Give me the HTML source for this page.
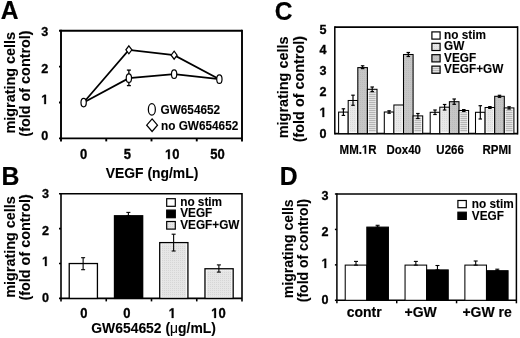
<!DOCTYPE html>
<html><head><meta charset="utf-8"><style>
html,body{margin:0;padding:0;background:#fff;}
svg{display:block;filter:grayscale(1);font-family:"Liberation Sans",sans-serif;font-weight:bold;}
text,.one{stroke:#000;}
.tk{stroke-width:0.3px;} .lg{stroke-width:0.1px;} .ti{stroke-width:0.1px;} .pl{stroke-width:0.2px;} .xl{stroke-width:0.15px;}
.one{vector-effect:non-scaling-stroke;}
</style></head><body>
<svg width="520" height="338" viewBox="0 0 520 338" font-family="Liberation Sans, sans-serif" font-weight="bold">
<defs>
<pattern id="dotB" width="2" height="2" patternUnits="userSpaceOnUse"><rect width="2" height="2" fill="#e6e6e6"/><rect width="1" height="1" fill="#d6d6d6"/></pattern>
<pattern id="dotL" width="2" height="2" patternUnits="userSpaceOnUse"><rect width="2" height="2" fill="#e8e8e8"/><rect width="1" height="1" fill="#dadada"/></pattern>
<pattern id="dotM" width="2" height="2" patternUnits="userSpaceOnUse"><rect width="2" height="2" fill="#c6c6c6"/><rect width="1" height="1" fill="#bcbcbc"/></pattern>
<pattern id="hstr" width="2" height="2" patternUnits="userSpaceOnUse"><rect width="2" height="2" fill="#e2e2e2"/><rect width="2" height="1" fill="#b6b6b6"/></pattern>
</defs>
<rect width="520" height="338" fill="#fff"/>
<text class="pl" transform="translate(0.7,19.3) scale(1,1.04)" font-size="24.6" text-anchor="start" >A</text>
<line x1="61" y1="30.8" x2="242" y2="30.8" stroke="#000" stroke-width="1.9"/>
<line x1="61" y1="138.4" x2="242" y2="138.4" stroke="#000" stroke-width="1.9"/>
<line x1="61" y1="29.85" x2="61" y2="141.4" stroke="#000" stroke-width="1.9"/>
<line x1="242" y1="29.85" x2="242" y2="141.4" stroke="#000" stroke-width="1.9"/>
<line x1="59" y1="138.4" x2="61" y2="138.4" stroke="#000" stroke-width="1.9"/>
<line x1="59" y1="102.53333333333333" x2="61" y2="102.53333333333333" stroke="#000" stroke-width="1.9"/>
<line x1="59" y1="66.66666666666667" x2="61" y2="66.66666666666667" stroke="#000" stroke-width="1.9"/>
<line x1="59" y1="30.80000000000001" x2="61" y2="30.80000000000001" stroke="#000" stroke-width="1.9"/>
<line x1="106.25" y1="138.4" x2="106.25" y2="141.4" stroke="#000" stroke-width="1.9"/>
<line x1="151.5" y1="138.4" x2="151.5" y2="141.4" stroke="#000" stroke-width="1.9"/>
<line x1="196.75" y1="138.4" x2="196.75" y2="141.4" stroke="#000" stroke-width="1.9"/>
<text class="tk" transform="translate(48.3,36) scale(1,1.07)" font-size="12.6" text-anchor="end" >3</text>
<text class="tk" transform="translate(48.3,72.9) scale(1,1.07)" font-size="12.6" text-anchor="end" >2</text>
<text id="t1_0" class="tk" transform="translate(48.3,104.1) scale(1,1.07)" font-size="12.6" text-anchor="end" > </text>
<path class="one tk" transform="translate(48.3,104.1) scale(1,1.07) translate(-7.001,0) scale(0.006152,-0.006152)" d="M478,0L478,1170L140,959L140,1180L493,1409L759,1409L759,0Z"/>
<text class="tk" transform="translate(48.3,139.7) scale(1,1.07)" font-size="12.6" text-anchor="end" >0</text>
<text class="ti" transform="translate(14.5,82.7) rotate(-90)" font-size="14.4" text-anchor="middle">migrating cells</text>
<text class="ti" transform="translate(30.1,83.5) rotate(-90)" font-size="14.4" text-anchor="middle">(fold of control)</text>
<text class="tk" transform="translate(83.7,159.1) scale(1,1.07)" font-size="13" text-anchor="middle" >0</text>
<text class="tk" transform="translate(127.4,159.1) scale(1,1.07)" font-size="13" text-anchor="middle" >5</text>
<text id="t1_1" class="tk" transform="translate(172.2,159.1) scale(1,1.07)" font-size="13" text-anchor="middle" > 0</text>
<path class="one tk" transform="translate(172.2,159.1) scale(1,1.07) translate(-7.227,0) scale(0.006348,-0.006348)" d="M478,0L478,1170L140,959L140,1180L493,1409L759,1409L759,0Z"/>
<text class="tk" transform="translate(217.5,159.1) scale(1,1.07)" font-size="13" text-anchor="middle" >50</text>
<text class="ti" transform="translate(152,177.8) scale(1,1.0)" font-size="13.9" text-anchor="middle" >VEGF (ng/mL)</text>
<polyline points="83.625,102.53333333333333 128.875,49.80933333333333 174.125,55.18933333333334 219.375,79.22" fill="none" stroke="#000" stroke-width="1.75"/>
<polyline points="83.625,102.53333333333333 128.875,78.144 174.125,74.19866666666667 219.375,79.22" fill="none" stroke="#000" stroke-width="1.75"/>
<line x1="128.875" y1="70.1" x2="128.875" y2="85.6" stroke="#000" stroke-width="1.3"/>
<line x1="126.875" y1="70.1" x2="130.875" y2="70.1" stroke="#000" stroke-width="1.3"/>
<line x1="126.875" y1="85.6" x2="130.875" y2="85.6" stroke="#000" stroke-width="1.3"/>
<ellipse cx="83.625" cy="102.53333333333333" rx="2.65" ry="4.25" fill="#fff" stroke="#000" stroke-width="1.2"/>
<ellipse cx="128.875" cy="78.144" rx="2.65" ry="4.25" fill="#fff" stroke="#000" stroke-width="1.2"/>
<ellipse cx="174.125" cy="74.19866666666667" rx="2.65" ry="4.25" fill="#fff" stroke="#000" stroke-width="1.2"/>
<ellipse cx="219.375" cy="79.22" rx="2.65" ry="4.25" fill="#fff" stroke="#000" stroke-width="1.2"/>
<polygon points="128.875,45.80933333333333 131.875,49.80933333333333 128.875,53.80933333333333 125.875,49.80933333333333" fill="#fff" stroke="#000" stroke-width="1.2"/>
<polygon points="174.125,51.18933333333334 177.125,55.18933333333334 174.125,59.18933333333334 171.125,55.18933333333334" fill="#fff" stroke="#000" stroke-width="1.2"/>
<ellipse cx="151.85" cy="109.4" rx="3.5" ry="5.7" fill="#fff" stroke="#000" stroke-width="1.25"/>
<text class="lg" transform="translate(160.5,113.7) scale(1,1.07)" font-size="11.8" text-anchor="start" >GW654652</text>
<polygon points="152.1,118.9 157.5,125.2 152.1,131.5 146.7,125.2" fill="#fff" stroke="#000" stroke-width="1.25"/>
<text class="lg" transform="translate(161,130.3) scale(1,1.07)" font-size="11.8" text-anchor="start" >no GW654652</text>
<text class="pl" transform="translate(1.4,184.5) scale(1,1.05)" font-size="24.8" text-anchor="start" >B</text>
<line x1="61" y1="193.8" x2="242" y2="193.8" stroke="#000" stroke-width="1.6"/>
<line x1="61" y1="298.4" x2="242" y2="298.4" stroke="#000" stroke-width="1.6"/>
<line x1="61" y1="193.0" x2="61" y2="301.4" stroke="#000" stroke-width="1.6"/>
<line x1="242" y1="193.0" x2="242" y2="301.4" stroke="#000" stroke-width="1.6"/>
<line x1="59" y1="298.4" x2="61" y2="298.4" stroke="#000" stroke-width="1.6"/>
<line x1="59" y1="263.5333333333333" x2="61" y2="263.5333333333333" stroke="#000" stroke-width="1.6"/>
<line x1="59" y1="228.66666666666669" x2="61" y2="228.66666666666669" stroke="#000" stroke-width="1.6"/>
<line x1="59" y1="193.8" x2="61" y2="193.8" stroke="#000" stroke-width="1.6"/>
<line x1="106.25" y1="298.4" x2="106.25" y2="301.4" stroke="#000" stroke-width="1.6"/>
<line x1="151.5" y1="298.4" x2="151.5" y2="301.4" stroke="#000" stroke-width="1.6"/>
<line x1="196.75" y1="298.4" x2="196.75" y2="301.4" stroke="#000" stroke-width="1.6"/>
<text class="tk" transform="translate(49,198.3) scale(1,1.07)" font-size="12.6" text-anchor="end" >3</text>
<text class="tk" transform="translate(49,234.5) scale(1,1.07)" font-size="12.6" text-anchor="end" >2</text>
<text id="t1_2" class="tk" transform="translate(49,265.9) scale(1,1.07)" font-size="12.6" text-anchor="end" > </text>
<path class="one tk" transform="translate(49,265.9) scale(1,1.07) translate(-7.001,0) scale(0.006152,-0.006152)" d="M478,0L478,1170L140,959L140,1180L493,1409L759,1409L759,0Z"/>
<text class="tk" transform="translate(49,301.8) scale(1,1.07)" font-size="12.6" text-anchor="end" >0</text>
<text class="ti" transform="translate(15,247) rotate(-90)" font-size="14.4" text-anchor="middle">migrating cells</text>
<text class="ti" transform="translate(30.3,247.4) rotate(-90)" font-size="14.4" text-anchor="middle">(fold of control)</text>
<text class="tk" transform="translate(83.8,317.9) scale(1,1.07)" font-size="13" text-anchor="middle" >0</text>
<text class="tk" transform="translate(126.9,317.9) scale(1,1.07)" font-size="13" text-anchor="middle" >0</text>
<text id="t1_3" class="tk" transform="translate(172.3,317.9) scale(1,1.07)" font-size="13" text-anchor="middle" > </text>
<path class="one tk" transform="translate(172.3,317.9) scale(1,1.07) translate(-3.614,0) scale(0.006348,-0.006348)" d="M478,0L478,1170L140,959L140,1180L493,1409L759,1409L759,0Z"/>
<text id="t1_4" class="tk" transform="translate(218.4,317.9) scale(1,1.07)" font-size="13" text-anchor="middle" > 0</text>
<path class="one tk" transform="translate(218.4,317.9) scale(1,1.07) translate(-7.227,0) scale(0.006348,-0.006348)" d="M478,0L478,1170L140,959L140,1180L493,1409L759,1409L759,0Z"/>
<text class="ti" transform="translate(153.6,333) scale(1,1.0)" font-size="13.9" text-anchor="middle" >GW654652 (<tspan font-weight="normal">&#956;</tspan>g/mL)</text>
<rect x="69.22500000000001" y="263.5333333333333" width="28.2" height="34.866666666666674" fill="#fff" stroke="#000" stroke-width="1.3"/>
<line x1="83.125" y1="257.7" x2="83.125" y2="269.7" stroke="#000" stroke-width="1.1"/>
<line x1="81.125" y1="257.7" x2="85.125" y2="257.7" stroke="#000" stroke-width="1.1"/>
<line x1="81.125" y1="269.7" x2="85.125" y2="269.7" stroke="#000" stroke-width="1.1"/>
<rect x="114.475" y="215.76600000000002" width="28.2" height="82.63399999999996" fill="#000" stroke="#000" stroke-width="1.3"/>
<line x1="128.375" y1="212.4" x2="128.375" y2="215.76600000000002" stroke="#000" stroke-width="1.1"/>
<line x1="126.375" y1="212.4" x2="130.375" y2="212.4" stroke="#000" stroke-width="1.1"/>
<line x1="126.375" y1="215.76600000000002" x2="130.375" y2="215.76600000000002" stroke="#000" stroke-width="1.1"/>
<rect x="159.725" y="242.61333333333334" width="28.2" height="55.78666666666663" fill="#fff" stroke="#000" stroke-width="1.3"/>
<rect x="161.375" y="244.26333333333335" width="24.9" height="52.486666666666636" fill="url(#dotB)"/>
<line x1="173.625" y1="234.2" x2="173.625" y2="251" stroke="#000" stroke-width="1.1"/>
<line x1="171.625" y1="234.2" x2="175.625" y2="234.2" stroke="#000" stroke-width="1.1"/>
<line x1="171.625" y1="251" x2="175.625" y2="251" stroke="#000" stroke-width="1.1"/>
<rect x="204.975" y="268.7633333333333" width="28.2" height="29.636666666666656" fill="#fff" stroke="#000" stroke-width="1.3"/>
<rect x="206.625" y="270.4133333333333" width="24.9" height="26.336666666666655" fill="url(#dotB)"/>
<line x1="218.875" y1="264.9" x2="218.875" y2="272.1" stroke="#000" stroke-width="1.1"/>
<line x1="216.875" y1="264.9" x2="220.875" y2="264.9" stroke="#000" stroke-width="1.1"/>
<line x1="216.875" y1="272.1" x2="220.875" y2="272.1" stroke="#000" stroke-width="1.1"/>
<rect x="166.7" y="198.7" width="8.6" height="7.6" fill="#fff" stroke="#000" stroke-width="1.2"/>
<text class="lg" transform="translate(180.2,205.89999999999998) scale(1,1.07)" font-size="11.8" text-anchor="start" >no stim</text>
<rect x="166.7" y="210.1" width="8.6" height="7.6" fill="#000" stroke="#000" stroke-width="1.2"/>
<text class="lg" transform="translate(180.2,217.29999999999998) scale(1,1.07)" font-size="11.8" text-anchor="start" >VEGF</text>
<rect x="166.7" y="221.5" width="8.6" height="7.6" fill="url(#dotB)" stroke="#000" stroke-width="1.2"/>
<text class="lg" transform="translate(180.2,228.7) scale(1,1.07)" font-size="11.8" text-anchor="start" >VEGF+GW</text>
<text class="pl" transform="translate(274.8,19.6) scale(1,1.08)" font-size="24.6" text-anchor="start" >C</text>
<line x1="334.8" y1="27.1" x2="517.6" y2="27.1" stroke="#000" stroke-width="1.8"/>
<line x1="334.8" y1="133.6" x2="517.6" y2="133.6" stroke="#000" stroke-width="1.8"/>
<line x1="334.8" y1="26.200000000000003" x2="334.8" y2="134.5" stroke="#000" stroke-width="1.5"/>
<line x1="517.6" y1="26.200000000000003" x2="517.6" y2="134.5" stroke="#000" stroke-width="1.5"/>
<text class="tk" transform="translate(326.5,138.3) scale(1,1.07)" font-size="12.6" text-anchor="end" >0</text>
<text id="t1_5" class="tk" transform="translate(326.5,117) scale(1,1.07)" font-size="12.6" text-anchor="end" > </text>
<path class="one tk" transform="translate(326.5,117) scale(1,1.07) translate(-7.001,0) scale(0.006152,-0.006152)" d="M478,0L478,1170L140,959L140,1180L493,1409L759,1409L759,0Z"/>
<text class="tk" transform="translate(326.5,95.9) scale(1,1.07)" font-size="12.6" text-anchor="end" >2</text>
<text class="tk" transform="translate(326.5,74.8) scale(1,1.07)" font-size="12.6" text-anchor="end" >3</text>
<text class="tk" transform="translate(326.5,54.4) scale(1,1.07)" font-size="12.6" text-anchor="end" >4</text>
<text class="tk" transform="translate(326.5,34) scale(1,1.07)" font-size="12.6" text-anchor="end" >5</text>
<text class="ti" transform="translate(288.3,87.4) rotate(-90)" font-size="14.4" text-anchor="middle">migrating cells</text>
<text class="ti" transform="translate(303.8,89.1) rotate(-90)" font-size="14.4" text-anchor="middle">(fold of control)</text>
<text id="t1_6" class="xl" transform="translate(358.1,153.8) scale(1,1.07)" font-size="11.5" text-anchor="middle" >MM. R</text>
<path class="one xl" transform="translate(358.1,153.8) scale(1,1.07) translate(3.810,0) scale(0.005615,-0.005615)" d="M478,0L478,1170L140,959L140,1180L493,1409L759,1409L759,0Z"/>
<text class="xl" transform="translate(403.7,153.8) scale(1,1.07)" font-size="11.5" text-anchor="middle" >Dox40</text>
<text class="xl" transform="translate(450.1,153.8) scale(1,1.07)" font-size="11.5" text-anchor="middle" >U266</text>
<text class="xl" transform="translate(496.8,153.8) scale(1,1.07)" font-size="11.5" text-anchor="middle" >RPMI</text>
<rect x="338.6" y="112.1" width="9.6" height="21.5" fill="#fff" stroke="#000" stroke-width="1.05"/>
<rect x="348.20000000000005" y="100.5" width="9.6" height="33.099999999999994" fill="#fff" stroke="#000" stroke-width="1.05"/>
<rect x="349.52500000000003" y="101.825" width="6.949999999999999" height="30.449999999999996" fill="url(#dotL)"/>
<rect x="357.8" y="67.6" width="9.6" height="66.0" fill="url(#dotM)" stroke="#000" stroke-width="1.05"/>
<rect x="367.40000000000003" y="89.3" width="9.6" height="44.3" fill="#fff" stroke="#000" stroke-width="1.05"/>
<rect x="368.725" y="90.625" width="6.949999999999999" height="41.65" fill="url(#hstr)"/>
<line x1="343.40000000000003" y1="108.8" x2="343.40000000000003" y2="115.4" stroke="#000" stroke-width="1.2"/>
<line x1="341.65000000000003" y1="108.8" x2="345.15000000000003" y2="108.8" stroke="#000" stroke-width="1.2"/>
<line x1="341.65000000000003" y1="115.4" x2="345.15000000000003" y2="115.4" stroke="#000" stroke-width="1.2"/>
<line x1="353.00000000000006" y1="95.2" x2="353.00000000000006" y2="105.3" stroke="#000" stroke-width="1.2"/>
<line x1="351.25000000000006" y1="95.2" x2="354.75000000000006" y2="95.2" stroke="#000" stroke-width="1.2"/>
<line x1="351.25000000000006" y1="105.3" x2="354.75000000000006" y2="105.3" stroke="#000" stroke-width="1.2"/>
<line x1="362.6" y1="65.8" x2="362.6" y2="68.6" stroke="#000" stroke-width="1.2"/>
<line x1="360.85" y1="65.8" x2="364.35" y2="65.8" stroke="#000" stroke-width="1.2"/>
<line x1="360.85" y1="68.6" x2="364.35" y2="68.6" stroke="#000" stroke-width="1.2"/>
<line x1="372.20000000000005" y1="87" x2="372.20000000000005" y2="91.6" stroke="#000" stroke-width="1.2"/>
<line x1="370.45000000000005" y1="87" x2="373.95000000000005" y2="87" stroke="#000" stroke-width="1.2"/>
<line x1="370.45000000000005" y1="91.6" x2="373.95000000000005" y2="91.6" stroke="#000" stroke-width="1.2"/>
<rect x="384.3" y="112" width="9.6" height="21.599999999999994" fill="#fff" stroke="#000" stroke-width="1.05"/>
<rect x="393.90000000000003" y="105" width="9.6" height="28.599999999999994" fill="#fff" stroke="#000" stroke-width="1.05"/>
<rect x="395.225" y="106.325" width="6.949999999999999" height="25.949999999999996" fill="url(#dotL)"/>
<rect x="403.5" y="54.5" width="9.6" height="79.1" fill="url(#dotM)" stroke="#000" stroke-width="1.05"/>
<rect x="413.1" y="115.9" width="9.6" height="17.69999999999999" fill="#fff" stroke="#000" stroke-width="1.05"/>
<rect x="414.425" y="117.22500000000001" width="6.949999999999999" height="15.049999999999988" fill="url(#hstr)"/>
<line x1="389.1" y1="110.8" x2="389.1" y2="113.2" stroke="#000" stroke-width="1.2"/>
<line x1="387.35" y1="110.8" x2="390.85" y2="110.8" stroke="#000" stroke-width="1.2"/>
<line x1="387.35" y1="113.2" x2="390.85" y2="113.2" stroke="#000" stroke-width="1.2"/>
<line x1="408.3" y1="52.5" x2="408.3" y2="56.5" stroke="#000" stroke-width="1.2"/>
<line x1="406.55" y1="52.5" x2="410.05" y2="52.5" stroke="#000" stroke-width="1.2"/>
<line x1="406.55" y1="56.5" x2="410.05" y2="56.5" stroke="#000" stroke-width="1.2"/>
<line x1="417.90000000000003" y1="113.5" x2="417.90000000000003" y2="118.5" stroke="#000" stroke-width="1.2"/>
<line x1="416.15000000000003" y1="113.5" x2="419.65000000000003" y2="113.5" stroke="#000" stroke-width="1.2"/>
<line x1="416.15000000000003" y1="118.5" x2="419.65000000000003" y2="118.5" stroke="#000" stroke-width="1.2"/>
<rect x="430.2" y="112.3" width="9.6" height="21.299999999999997" fill="#fff" stroke="#000" stroke-width="1.05"/>
<rect x="439.8" y="107.2" width="9.6" height="26.39999999999999" fill="#fff" stroke="#000" stroke-width="1.05"/>
<rect x="441.125" y="108.525" width="6.949999999999999" height="23.749999999999993" fill="url(#dotL)"/>
<rect x="449.4" y="101.7" width="9.6" height="31.89999999999999" fill="url(#dotM)" stroke="#000" stroke-width="1.05"/>
<rect x="459.0" y="110.5" width="9.6" height="23.099999999999994" fill="#fff" stroke="#000" stroke-width="1.05"/>
<rect x="460.325" y="111.825" width="6.949999999999999" height="20.449999999999996" fill="url(#hstr)"/>
<line x1="435.0" y1="110" x2="435.0" y2="114.5" stroke="#000" stroke-width="1.2"/>
<line x1="433.25" y1="110" x2="436.75" y2="110" stroke="#000" stroke-width="1.2"/>
<line x1="433.25" y1="114.5" x2="436.75" y2="114.5" stroke="#000" stroke-width="1.2"/>
<line x1="444.6" y1="104.5" x2="444.6" y2="110" stroke="#000" stroke-width="1.2"/>
<line x1="442.85" y1="104.5" x2="446.35" y2="104.5" stroke="#000" stroke-width="1.2"/>
<line x1="442.85" y1="110" x2="446.35" y2="110" stroke="#000" stroke-width="1.2"/>
<line x1="454.2" y1="99" x2="454.2" y2="104.3" stroke="#000" stroke-width="1.2"/>
<line x1="452.45" y1="99" x2="455.95" y2="99" stroke="#000" stroke-width="1.2"/>
<line x1="452.45" y1="104.3" x2="455.95" y2="104.3" stroke="#000" stroke-width="1.2"/>
<line x1="463.8" y1="109.6" x2="463.8" y2="111.4" stroke="#000" stroke-width="1.2"/>
<line x1="462.05" y1="109.6" x2="465.55" y2="109.6" stroke="#000" stroke-width="1.2"/>
<line x1="462.05" y1="111.4" x2="465.55" y2="111.4" stroke="#000" stroke-width="1.2"/>
<rect x="475.5" y="112.3" width="9.6" height="21.299999999999997" fill="#fff" stroke="#000" stroke-width="1.05"/>
<rect x="485.1" y="107.5" width="9.6" height="26.099999999999994" fill="#fff" stroke="#000" stroke-width="1.05"/>
<rect x="486.425" y="108.825" width="6.949999999999999" height="23.449999999999996" fill="url(#dotL)"/>
<rect x="494.7" y="96.3" width="9.6" height="37.3" fill="url(#dotM)" stroke="#000" stroke-width="1.05"/>
<rect x="504.3" y="107.9" width="9.6" height="25.69999999999999" fill="#fff" stroke="#000" stroke-width="1.05"/>
<rect x="505.625" y="109.22500000000001" width="6.949999999999999" height="23.04999999999999" fill="url(#hstr)"/>
<line x1="480.3" y1="105.7" x2="480.3" y2="119" stroke="#000" stroke-width="1.2"/>
<line x1="478.55" y1="105.7" x2="482.05" y2="105.7" stroke="#000" stroke-width="1.2"/>
<line x1="478.55" y1="119" x2="482.05" y2="119" stroke="#000" stroke-width="1.2"/>
<line x1="489.90000000000003" y1="106.6" x2="489.90000000000003" y2="108.4" stroke="#000" stroke-width="1.2"/>
<line x1="488.15000000000003" y1="106.6" x2="491.65000000000003" y2="106.6" stroke="#000" stroke-width="1.2"/>
<line x1="488.15000000000003" y1="108.4" x2="491.65000000000003" y2="108.4" stroke="#000" stroke-width="1.2"/>
<line x1="499.5" y1="95.3" x2="499.5" y2="97.3" stroke="#000" stroke-width="1.2"/>
<line x1="497.75" y1="95.3" x2="501.25" y2="95.3" stroke="#000" stroke-width="1.2"/>
<line x1="497.75" y1="97.3" x2="501.25" y2="97.3" stroke="#000" stroke-width="1.2"/>
<line x1="509.1" y1="106.8" x2="509.1" y2="109" stroke="#000" stroke-width="1.2"/>
<line x1="507.35" y1="106.8" x2="510.85" y2="106.8" stroke="#000" stroke-width="1.2"/>
<line x1="507.35" y1="109" x2="510.85" y2="109" stroke="#000" stroke-width="1.2"/>
<rect x="431.9" y="31.9" width="8.2" height="7.2" fill="#fff" stroke="#000" stroke-width="1.2"/>
<text class="lg" transform="translate(444.1,38.8) scale(1,1.07)" font-size="11.8" text-anchor="start" >no stim</text>
<rect x="431.9" y="43.3" width="8.2" height="7.2" fill="url(#dotL)" stroke="#000" stroke-width="1.2"/>
<text class="lg" transform="translate(444.1,50.199999999999996) scale(1,1.07)" font-size="11.8" text-anchor="start" >GW</text>
<rect x="431.9" y="54.7" width="8.2" height="7.2" fill="url(#dotM)" stroke="#000" stroke-width="1.2"/>
<text class="lg" transform="translate(444.1,61.6) scale(1,1.07)" font-size="11.8" text-anchor="start" >VEGF</text>
<rect x="431.9" y="66.1" width="8.2" height="7.2" fill="url(#hstr)" stroke="#000" stroke-width="1.2"/>
<text class="lg" transform="translate(444.1,73.0) scale(1,1.07)" font-size="11.8" text-anchor="start" >VEGF+GW</text>
<text class="pl" transform="translate(279.8,184.8) scale(1,1.06)" font-size="24.8" text-anchor="start" >D</text>
<line x1="336.9" y1="194" x2="516.4" y2="194" stroke="#000" stroke-width="1.5"/>
<line x1="336.9" y1="300.3" x2="516.4" y2="300.3" stroke="#000" stroke-width="1.5"/>
<line x1="336.9" y1="193.25" x2="336.9" y2="303.3" stroke="#000" stroke-width="1.5"/>
<line x1="516.4" y1="193.25" x2="516.4" y2="303.3" stroke="#000" stroke-width="1.5"/>
<line x1="334.9" y1="300.3" x2="336.9" y2="300.3" stroke="#000" stroke-width="1.5"/>
<line x1="334.9" y1="264.8666666666667" x2="336.9" y2="264.8666666666667" stroke="#000" stroke-width="1.5"/>
<line x1="334.9" y1="229.43333333333334" x2="336.9" y2="229.43333333333334" stroke="#000" stroke-width="1.5"/>
<line x1="334.9" y1="194.0" x2="336.9" y2="194.0" stroke="#000" stroke-width="1.5"/>
<line x1="396.7333333333333" y1="300.3" x2="396.7333333333333" y2="303.3" stroke="#000" stroke-width="1.5"/>
<line x1="456.56666666666666" y1="300.3" x2="456.56666666666666" y2="303.3" stroke="#000" stroke-width="1.5"/>
<text class="tk" transform="translate(328.5,200.3) scale(1,1.07)" font-size="12.6" text-anchor="end" >3</text>
<text class="tk" transform="translate(328.5,236.3) scale(1,1.07)" font-size="12.6" text-anchor="end" >2</text>
<text id="t1_7" class="tk" transform="translate(328.5,267.9) scale(1,1.07)" font-size="12.6" text-anchor="end" > </text>
<path class="one tk" transform="translate(328.5,267.9) scale(1,1.07) translate(-7.001,0) scale(0.006152,-0.006152)" d="M478,0L478,1170L140,959L140,1180L493,1409L759,1409L759,0Z"/>
<text class="tk" transform="translate(328.5,304.3) scale(1,1.07)" font-size="12.6" text-anchor="end" >0</text>
<text class="ti" transform="translate(292.8,248.8) rotate(-90)" font-size="14" text-anchor="middle">migrating cells</text>
<text class="ti" transform="translate(308.2,250.5) rotate(-90)" font-size="14" text-anchor="middle">(fold of control)</text>
<text class="xl" transform="translate(364.2,316.8) scale(1,1.0)" font-size="14" text-anchor="middle" >contr</text>
<text class="xl" transform="translate(420.6,316.8) scale(1,1.0)" font-size="14" text-anchor="middle" >+GW</text>
<text class="xl" transform="translate(487.1,316.8) scale(1,1.0)" font-size="14" text-anchor="middle" >+GW re</text>
<rect x="345.21666666666664" y="265.1" width="21.6" height="35.19999999999999" fill="#fff" stroke="#000" stroke-width="1.05"/>
<line x1="356.01666666666665" y1="261.4" x2="356.01666666666665" y2="265.1" stroke="#000" stroke-width="1.1"/>
<line x1="354.01666666666665" y1="261.4" x2="358.01666666666665" y2="261.4" stroke="#000" stroke-width="1.1"/>
<line x1="354.01666666666665" y1="265.1" x2="358.01666666666665" y2="265.1" stroke="#000" stroke-width="1.1"/>
<rect x="366.81666666666666" y="227.1" width="21.6" height="73.20000000000002" fill="#000" stroke="#000" stroke-width="1.05"/>
<line x1="377.6166666666667" y1="225.3" x2="377.6166666666667" y2="227.1" stroke="#000" stroke-width="1.1"/>
<line x1="375.6166666666667" y1="225.3" x2="379.6166666666667" y2="225.3" stroke="#000" stroke-width="1.1"/>
<line x1="375.6166666666667" y1="227.1" x2="379.6166666666667" y2="227.1" stroke="#000" stroke-width="1.1"/>
<rect x="405.04999999999995" y="265.1" width="21.6" height="35.19999999999999" fill="#fff" stroke="#000" stroke-width="1.05"/>
<line x1="415.84999999999997" y1="261.4" x2="415.84999999999997" y2="265.1" stroke="#000" stroke-width="1.1"/>
<line x1="413.84999999999997" y1="261.4" x2="417.84999999999997" y2="261.4" stroke="#000" stroke-width="1.1"/>
<line x1="413.84999999999997" y1="265.1" x2="417.84999999999997" y2="265.1" stroke="#000" stroke-width="1.1"/>
<rect x="426.65" y="269.9" width="21.6" height="30.400000000000034" fill="#000" stroke="#000" stroke-width="1.05"/>
<line x1="437.45" y1="265.5" x2="437.45" y2="269.9" stroke="#000" stroke-width="1.1"/>
<line x1="435.45" y1="265.5" x2="439.45" y2="265.5" stroke="#000" stroke-width="1.1"/>
<line x1="435.45" y1="269.9" x2="439.45" y2="269.9" stroke="#000" stroke-width="1.1"/>
<rect x="464.8833333333333" y="265.1" width="21.6" height="35.19999999999999" fill="#fff" stroke="#000" stroke-width="1.05"/>
<line x1="475.68333333333334" y1="261" x2="475.68333333333334" y2="265.1" stroke="#000" stroke-width="1.1"/>
<line x1="473.68333333333334" y1="261" x2="477.68333333333334" y2="261" stroke="#000" stroke-width="1.1"/>
<line x1="473.68333333333334" y1="265.1" x2="477.68333333333334" y2="265.1" stroke="#000" stroke-width="1.1"/>
<rect x="486.48333333333335" y="270.7" width="21.6" height="29.600000000000023" fill="#000" stroke="#000" stroke-width="1.05"/>
<line x1="497.28333333333336" y1="269.2" x2="497.28333333333336" y2="270.7" stroke="#000" stroke-width="1.1"/>
<line x1="495.28333333333336" y1="269.2" x2="499.28333333333336" y2="269.2" stroke="#000" stroke-width="1.1"/>
<line x1="495.28333333333336" y1="270.7" x2="499.28333333333336" y2="270.7" stroke="#000" stroke-width="1.1"/>
<rect x="457.9" y="200.5" width="8.4" height="7.2" fill="#fff" stroke="#000" stroke-width="1.2"/>
<text class="lg" transform="translate(471.8,207.9) scale(1,1.07)" font-size="11.8" text-anchor="start" >no stim</text>
<rect x="457.9" y="212.2" width="8.4" height="7.2" fill="#000" stroke="#000" stroke-width="1.2"/>
<text class="lg" transform="translate(471.8,219.6) scale(1,1.07)" font-size="11.8" text-anchor="start" >VEGF</text>
</svg>
</body></html>
